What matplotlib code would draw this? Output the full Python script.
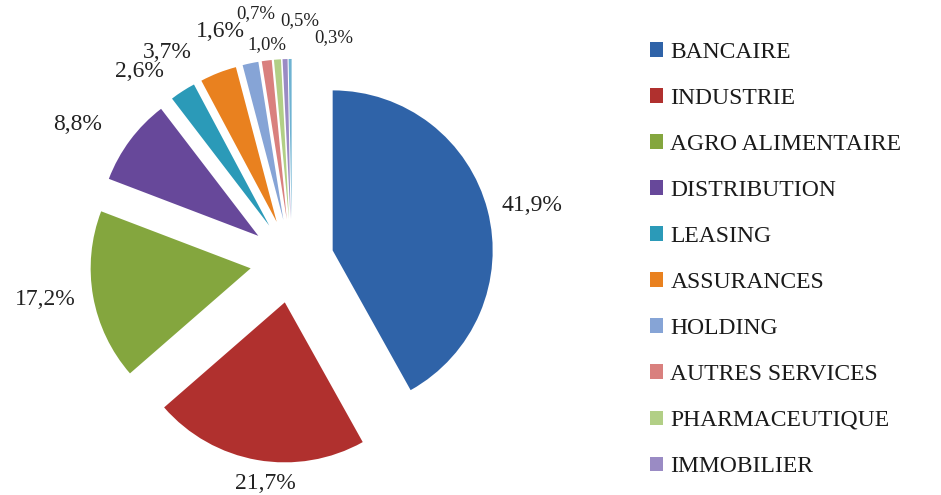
import numpy as np
import matplotlib.pyplot as plt

plt.rcParams['font.family'] = ['Liberation Serif', 'DejaVu Serif']

# Data
sectors = ['BANCAIRE', 'INDUSTRIE', 'AGRO ALIMENTAIRE', 'DISTRIBUTION', 'LEASING',
           'ASSURANCES', 'HOLDING', 'AUTRES SERVICES', 'PHARMACEUTIQUE', 'IMMOBILIER', '']
shares = [41.9, 21.7, 17.2, 8.8, 2.6, 3.7, 1.6, 1.0, 0.7, 0.5, 0.3]
colors = ['#2f63a8', '#b0302e', '#84a63e', '#67489a', '#2b9ab8', '#e9811f',
          '#86a4d6', '#d9807e', '#b2cf86', '#9a8bc4', '#6fb3d2']

# label placement (radius multiples, angle nudge in degrees, font size)
label_dist = [1.54, 1.40, 1.56, 1.59, 1.52, 1.52, 1.50, 1.36, 1.56, 1.50, 1.42]
label_shift = [-1.5, 3, -1.2, 4.3, 6.2, 9.5, 5.5, -0.5, 4.2, -3.8, -11]
label_size = [17, 17, 17, 17, 17, 17, 17, 13.5, 13.5, 13.5, 13.5]

fig = plt.figure(figsize=(9.41, 4.95), dpi=100)
ax = fig.add_axes([0, 0, 1, 1])

wedges, _ = ax.pie(shares, colors=colors, startangle=90, counterclock=False,
                   radius=1, explode=[0.2625] * len(shares),
                   wedgeprops=dict(linewidth=0))

# percentage labels outside the slices
bounds = 90 - 3.6 * np.concatenate([[0], np.cumsum(shares)])
mids = (bounds[:-1] + bounds[1:]) / 2
for val, m, d, s, fs in zip(shares, mids, label_dist, label_shift, label_size):
    a = np.deg2rad(m + s)
    ax.text(d * np.cos(a), d * np.sin(a), ('%.1f%%' % val).replace('.', ','),
            ha='center', va='center', fontsize=fs, color='#222222')

ax.set_xlim(-1.825, 4.056)
ax.set_ylim(-1.4625, 1.631)
ax.axis('off')

leg = ax.legend(wedges[:10], sectors[:10], loc='center left',
                bbox_to_anchor=(0.681, 0.476), frameon=False, fontsize=17,
                handlelength=0.55, handleheight=0.55, handletextpad=0.3,
                labelspacing=1.06, borderaxespad=0)
for t in leg.get_texts():
    t.set_color('#1a1a1a')

fig.savefig('out.png', dpi=100)
